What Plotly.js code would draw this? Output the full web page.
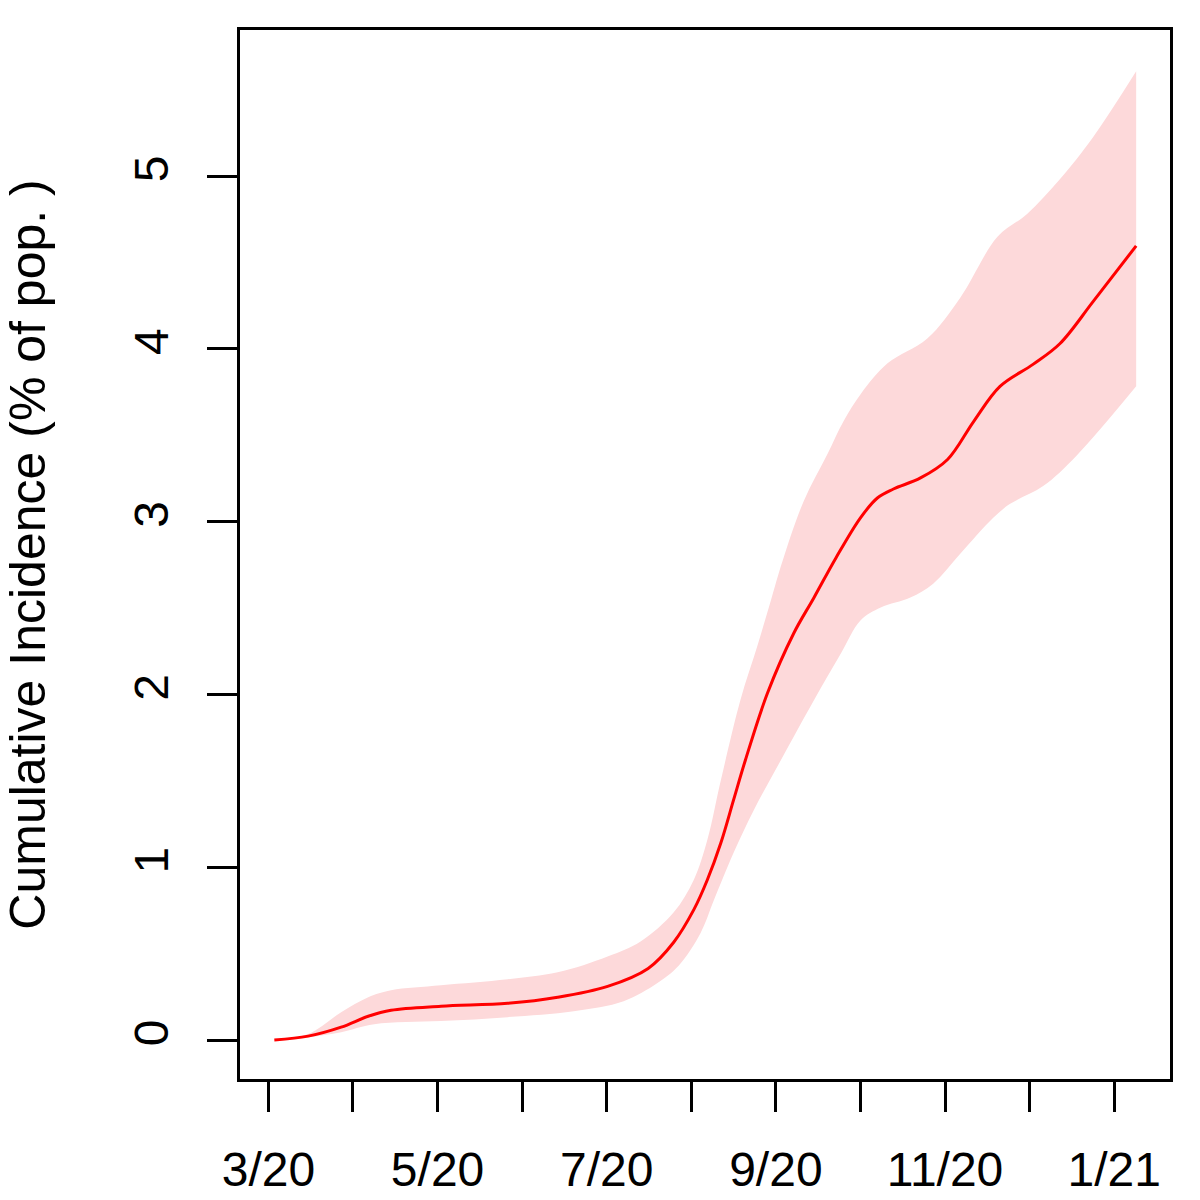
<!DOCTYPE html>
<html>
<head>
<meta charset="utf-8">
<script src="https://cdn.plot.ly/plotly-3.0.1.min.js"></script>
<style>html,body{margin:0;padding:0;background:#fff;}</style>
</head>
<body>
<div id="chart" style="width:1200px;height:1200px;"></div>
<script>
// months since March 2020 (0 = 3/20)
var monthTicks = [0,1,2,3,4,5,6,7,8,9,10];
var monthTickLabels = ['3/20','','5/20','','7/20','','9/20','','11/20','','1/21'];
var valueTicks = [0,1,2,3,4,5];

var midMonths = [0.07,0.47,0.86,1.18,1.45,2.04,2.83,3.42,4.01,4.49,4.79,5.03,5.19,5.35,5.50,5.64,5.90,6.21,6.45,6.71,7.00,7.20,7.39,7.71,8.03,8.34,8.65,9.04,9.36,9.75,10.26];
var midValues = [0,0.023,0.075,0.138,0.173,0.196,0.213,0.248,0.311,0.415,0.565,0.755,0.928,1.142,1.390,1.621,2.007,2.353,2.560,2.790,3.022,3.137,3.189,3.253,3.360,3.581,3.783,3.910,4.031,4.273,4.596];

var upperMonths = [0.07,0.47,0.86,1.18,1.45,2.04,2.83,3.42,4.01,4.40,4.79,5.03,5.19,5.35,5.58,5.79,5.94,6.08,6.33,6.61,6.80,7.01,7.32,7.79,8.18,8.62,8.97,9.36,9.75,10.26];
var upperValues = [0,0.035,0.161,0.248,0.288,0.317,0.352,0.392,0.484,0.571,0.738,0.928,1.159,1.505,1.967,2.295,2.543,2.774,3.120,3.391,3.581,3.743,3.916,4.060,4.296,4.648,4.781,4.983,5.225,5.606];

var lowerMonths = [0.07,0.47,0.86,1.25,2.04,2.83,3.61,4.20,4.60,4.85,5.11,5.27,5.50,5.74,6.06,6.45,6.77,7.00,7.24,7.59,7.86,8.18,8.57,8.77,9.16,9.56,10.26];
var lowerValues = [0,0.017,0.046,0.092,0.110,0.133,0.167,0.225,0.330,0.430,0.620,0.813,1.084,1.332,1.621,1.967,2.238,2.428,2.503,2.561,2.641,2.814,3.022,3.103,3.206,3.385,3.783];

var font = 'Liberation Sans, Arial, Helvetica, sans-serif';

var traces = [
  {x: lowerMonths, y: lowerValues, type: 'scatter', mode: 'lines',
   line: {width: 0, shape: 'spline', smoothing: 1, color: 'rgba(0,0,0,0)'},
   hoverinfo: 'skip', showlegend: false},
  {x: upperMonths, y: upperValues, type: 'scatter', mode: 'lines',
   fill: 'tonexty', fillcolor: 'rgb(253,217,218)',
   line: {width: 0, shape: 'spline', smoothing: 1, color: 'rgba(0,0,0,0)'},
   hoverinfo: 'skip', showlegend: false},
  {x: midMonths, y: midValues, type: 'scatter', mode: 'lines',
   line: {width: 3, shape: 'spline', smoothing: 1, color: '#ff0000'},
   showlegend: false}
];

var layout = {
  width: 1200, height: 1200,
  margin: {l: 240, r: 30, t: 30, b: 121, pad: 0},
  paper_bgcolor: '#ffffff', plot_bgcolor: '#ffffff',
  font: {family: font, size: 48, color: '#000000'},
  showlegend: false,
  xaxis: {
    range: [-0.336, 10.66], autorange: false,
    tickmode: 'array', tickvals: monthTicks, ticktext: monthTickLabels,
    ticks: 'outside', ticklen: 30, tickwidth: 3, tickcolor: '#000',
    showline: true, linewidth: 3, linecolor: '#000', mirror: true,
    showgrid: false, zeroline: false,
    tickfont: {family: font, size: 48, color: '#000'},
    ticklabelstandoff: 16
  },
  yaxis: {
    range: [-0.225, 5.845], autorange: false,
    tickmode: 'array', tickvals: valueTicks,
    ticks: 'outside', ticklen: 30, tickwidth: 3, tickcolor: '#000',
    showline: true, linewidth: 3, linecolor: '#000', mirror: true,
    showgrid: false, zeroline: false, tickangle: -90,
    tickfont: {family: font, size: 48, color: '#000'},
    ticklabelstandoff: 20,
    title: {text: 'Cumulative Incidence (% of pop. )', font: {family: font, size: 50, color: '#000'}, standoff: 70}
  }
};

Plotly.newPlot('chart', traces, layout, {staticPlot: true, displayModeBar: false});
</script>
</body>
</html>
